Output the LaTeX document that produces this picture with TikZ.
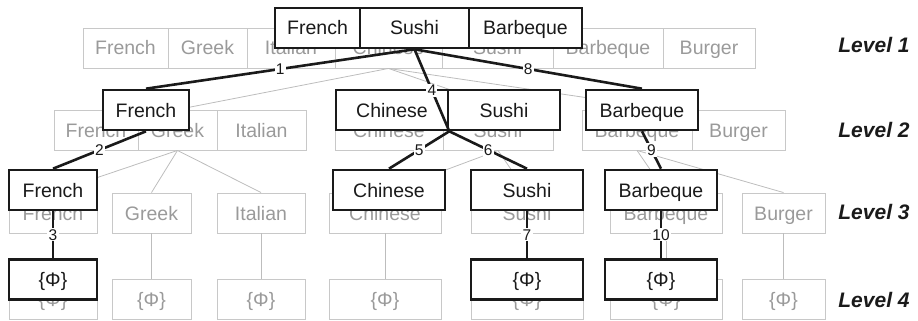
\documentclass[tikz,border=0pt]{standalone}
\usepackage{fontspec}
\setmainfont{Liberation Sans}
\definecolor{gtext}{HTML}{9A9A9A}
\definecolor{gframe}{HTML}{C8C8C8}
\definecolor{gedge}{HTML}{BDBDBD}
\definecolor{ink}{HTML}{1A1A1A}
\tikzset{
  cell/.style={rectangle, inner sep=0pt, minimum height=40pt,
    font=\fontsize{19.5}{22}\selectfont, text height=14pt, text depth=0pt},
  gcell/.style={cell, draw=gframe, line width=0.9pt, text=gtext},
  bcell/.style={cell, draw=ink, fill=white, line width=2.6pt, text=ink},
  glink/.style={draw=gedge, line width=0.8pt},
  blink/.style={draw=ink, line width=2.6pt},
  stepno/.style={fill=white, inner sep=1.2pt, text=ink,
    font=\fontsize{15.5}{17}\selectfont},
  levelname/.style={text=ink, font=\fontsize{21}{24}\selectfont\bfseries\itshape},
}
\begin{document}
\begin{tikzpicture}[x=1pt,y=-1pt]
\useasboundingbox (0,0) rectangle (918,321);

% ---------- full enumeration tree (gray) ----------
% level 1
\node[gcell, minimum width=85pt]  (g1fr) at (125.5,48) {French};
\node[gcell, minimum width=79pt]  (g1gr) at (207.5,48) {Greek};
\node[gcell, minimum width=88pt]  (g1it) at (291,48)   {Italian};
\node[gcell, minimum width=107pt] (g1ch) at (388.5,48) {Chinese};
\node[gcell, minimum width=111pt] (g1su) at (497.5,48) {Sushi};
\node[gcell, minimum width=110pt] (g1bb) at (608,48)   {Barbeque};
\node[gcell, minimum width=92pt]  (g1bu) at (709,48)   {Burger};
% level 2
\node[gcell, minimum width=84pt]  (g2fr) at (96,130)    {French};
\node[gcell, minimum width=79pt]  (g2gr) at (177.5,130) {Greek};
\node[gcell, minimum width=89pt]  (g2it) at (261.5,130) {Italian};
\node[gcell, minimum width=108pt] (g2ch) at (389,130)   {Chinese};
\node[gcell, minimum width=110pt] (g2su) at (498,130)   {Sushi};
\node[gcell, minimum width=110pt] (g2bb) at (637,130)   {Barbeque};
\node[gcell, minimum width=93pt]  (g2bu) at (738.5,130) {Burger};
% level 3
\node[gcell, minimum width=88pt]  (g3fr) at (53,213)    {French};
\node[gcell, minimum width=79pt]  (g3gr) at (151.5,213) {Greek};
\node[gcell, minimum width=88pt]  (g3it) at (261,213)   {Italian};
\node[gcell, minimum width=112pt] (g3ch) at (385,213)   {Chinese};
\node[gcell, minimum width=112pt] (g3su) at (527,213)   {Sushi};
\node[gcell, minimum width=112pt] (g3bb) at (666,213)   {Barbeque};
\node[gcell, minimum width=83pt]  (g3bu) at (783.5,213) {Burger};
% level 4
\node[gcell, minimum width=88pt]  (g4fr) at (53,299.5)    {\{Φ\}};
\node[gcell, minimum width=79pt]  (g4gr) at (151.5,299.5) {\{Φ\}};
\node[gcell, minimum width=88pt]  (g4it) at (261,299.5)   {\{Φ\}};
\node[gcell, minimum width=112pt] (g4ch) at (385,299.5)   {\{Φ\}};
\node[gcell, minimum width=112pt] (g4su) at (527,299.5)   {\{Φ\}};
\node[gcell, minimum width=112pt] (g4bb) at (666,299.5)   {\{Φ\}};
\node[gcell, minimum width=83pt]  (g4bu) at (783.5,299.5) {\{Φ\}};

% attachment points of the level-2 groups
\coordinate (g2midtop)   at (509,110);
\coordinate (g2righttop) at (670,110);

% gray links
\draw[glink] (g1ch.south) -- (g2gr.north);
\draw[glink] (g1ch.south) -- (g2midtop);
\draw[glink] (g1ch.south) -- (g2righttop);
\draw[glink] (g2gr.south) -- (g3fr.north);
\draw[glink] (g2gr.south) -- (g3gr.north);
\draw[glink] (g2gr.south) -- (g3it.north);
\draw[glink] (g2su.south) -- (g3ch.north);
\draw[glink] (g2su.south) -- (g3su.north);
\draw[glink] (g2bb.south) -- (g3bb.north);
\draw[glink] (g2bb.south) -- (g3bu.north);
\foreach \n in {fr,gr,it,ch,su,bb,bu}
  \draw[glink] (g3\n.south) -- (g4\n.north);

% ---------- visited path (black) ----------
% level 1
\node[bcell, minimum width=85pt]  (b1fr) at (317.5,28) {French};
\node[bcell, minimum width=109pt] (b1su) at (414.5,28) {Sushi};
\node[bcell, minimum width=113pt] (b1bb) at (525.5,28) {Barbeque};
% level 2
\node[bcell, minimum width=86pt]  (b2fr) at (146,110) {French};
\node[bcell, minimum width=112pt] (b2ch) at (392,110) {Chinese};
\node[bcell, minimum width=112pt] (b2su) at (504,110) {Sushi};
\node[bcell, minimum width=112pt] (b2bb) at (642,110) {Barbeque};
% level 3
\node[bcell, minimum width=88pt]  (b3fr) at (53,190)  {French};
\node[bcell, minimum width=112pt] (b3ch) at (389,190) {Chinese};
\node[bcell, minimum width=112pt] (b3su) at (527,190) {Sushi};
\node[bcell, minimum width=112pt] (b3bb) at (661,190) {Barbeque};
% level 4
\node[bcell, minimum width=88pt]  (b4fr) at (53,279.5)  {\{Φ\}};
\node[bcell, minimum width=112pt] (b4su) at (527,279.5) {\{Φ\}};
\node[bcell, minimum width=112pt] (b4bb) at (661,279.5) {\{Φ\}};

% numbered steps
\draw[blink] (b1su.south) -- node[stepno] {1} (b2fr.north);
\draw[blink] (b2fr.south) -- node[stepno] {2} (b3fr.north);
\draw[blink] (b3fr.south) -- node[stepno] {3} (b4fr.north);
\draw[blink] (b1su.south) -- node[stepno] {4} (b2ch.south east);
\draw[blink] (b2ch.south east) -- node[stepno] {5} (b3ch.north);
\draw[blink] (b2ch.south east) -- node[stepno] {6} (b3su.north);
\draw[blink] (b3su.south) -- node[stepno] {7} (b4su.north);
\draw[blink] (b1su.south) -- node[stepno] {8} (b2bb.north);
\draw[blink] (b2bb.south) -- node[stepno] {9} (b3bb.north);
\draw[blink] (b3bb.south) -- node[stepno] {10} (b4bb.north);

% level names
\node[levelname] (lv1) at (874,45)  {Level 1};
\node[levelname] (lv2) at (874,130) {Level 2};
\node[levelname] (lv3) at (874,212) {Level 3};
\node[levelname] (lv4) at (874,300) {Level 4};
\end{tikzpicture}
\end{document}
